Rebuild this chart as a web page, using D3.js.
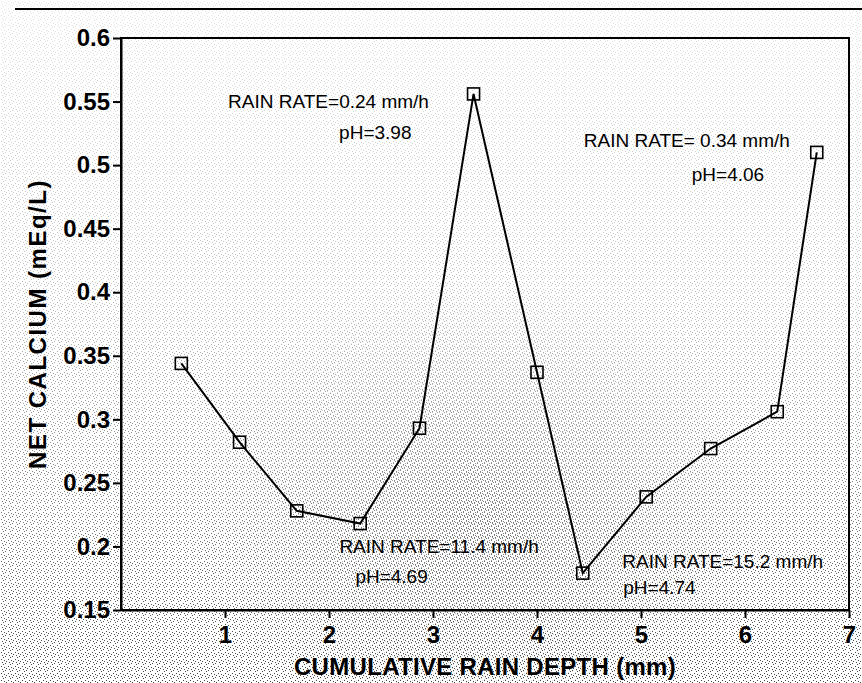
<!DOCTYPE html>
<html>
<head>
<meta charset="utf-8">
<script src="https://cdn.jsdelivr.net/npm/d3@7"></script>
<style>
  body { margin: 0; background: #fff; }
  svg { display: block; }
</style>
</head>
<body>
<div id="chart"></div>
<script>
// values
var depth = [0.58, 1.14, 1.69, 2.30, 2.87, 3.39, 4.00, 4.44, 5.05, 5.67, 6.31, 6.69];
var calcium = [0.344, 0.282, 0.228, 0.218, 0.293, 0.556, 0.337, 0.179, 0.239, 0.277, 0.306, 0.510];
var xTicks = [1, 2, 3, 4, 5, 6, 7];
var yTicks = [0.15, 0.2, 0.25, 0.3, 0.35, 0.4, 0.45, 0.5, 0.55, 0.6];
var rainRates = ["RAIN RATE=0.24 mm/h", "RAIN RATE= 0.34 mm/h", "RAIN RATE=11.4 mm/h", "RAIN RATE=15.2 mm/h"];
var phValues = ["pH=3.98", "pH=4.06", "pH=4.69", "pH=4.74"];
var xlabel = "CUMULATIVE RAIN DEPTH (mm)";
var ylabel = "NET CALCIUM (mEq/L)";

var drawChart = function(target) {
  var W = 862, H = 683;
  var margin = { top: 38, right: 13, bottom: 73, left: 121 },
    width = W - margin.left - margin.right,
    height = H - margin.top - margin.bottom;
  var font = "'Liberation Sans', Arial, Helvetica, sans-serif";

  var x = d3.scaleLinear().domain([0, 7]).range([0, width]);
  var y = d3.scaleLinear().domain([0.15, 0.6]).range([height, 0]);

  var svg = d3.select(target)
    .append("svg")
    .attr("width", W)
    .attr("height", H);

  // stippled photocopy tone
  var defs = svg.append("defs");
  var pat = defs.append("pattern")
    .attr("id", "stip")
    .attr("width", 7)
    .attr("height", 7)
    .attr("patternUnits", "userSpaceOnUse");
  [[1, 1], [4, 2], [2, 4], [5, 5], [6, 3], [3, 6]].forEach(function(p) {
    pat.append("rect").attr("x", p[0]).attr("y", p[1])
      .attr("width", 1).attr("height", 1).attr("fill", "#222");
  });
  var grad = defs.append("linearGradient")
    .attr("id", "fade").attr("x1", 0).attr("y1", 0).attr("x2", 0).attr("y2", 1);
  grad.append("stop").attr("offset", 0).attr("stop-color", "#fff").attr("stop-opacity", 0.12);
  grad.append("stop").attr("offset", 0.45).attr("stop-color", "#fff").attr("stop-opacity", 0.3);
  grad.append("stop").attr("offset", 1).attr("stop-color", "#fff").attr("stop-opacity", 0.85);
  var rad = defs.append("radialGradient")
    .attr("id", "blob").attr("cx", 0.55).attr("cy", 0.75).attr("r", 0.35);
  rad.append("stop").attr("offset", 0).attr("stop-color", "#fff").attr("stop-opacity", 0.6);
  rad.append("stop").attr("offset", 1).attr("stop-color", "#fff").attr("stop-opacity", 0);
  defs.append("mask").attr("id", "m1")
    .append("rect").attr("width", W).attr("height", H).attr("fill", "url(#fade)");
  defs.append("mask").attr("id", "m2")
    .append("rect").attr("width", W).attr("height", H).attr("fill", "url(#blob)");

  svg.append("rect").attr("width", W).attr("height", H).attr("fill", "#fff");
  svg.append("rect").attr("width", W).attr("height", H)
    .attr("fill", "url(#stip)").attr("mask", "url(#m1)");
  svg.append("rect").attr("width", W).attr("height", H)
    .attr("fill", "url(#stip)").attr("mask", "url(#m2)")
    .attr("transform", "translate(3,2)");

  // edge of the scanned page
  svg.append("line")
    .attr("x1", 15).attr("x2", W).attr("y1", 9).attr("y2", 9)
    .attr("stroke", "#000").attr("stroke-width", 2);

  var g = svg.append("g")
    .attr("transform", "translate(" + margin.left + "," + margin.top + ")");

  // frame
  g.append("rect")
    .attr("width", width)
    .attr("height", height)
    .attr("fill", "none")
    .attr("stroke", "#000")
    .attr("stroke-width", 2);

  // Add the X Axis
  var xAxis = g.append("g")
    .attr("transform", "translate(0," + height + ")")
    .call(d3.axisBottom(x).tickValues(xTicks).tickSize(8).tickSizeOuter(0).tickPadding(8)
      .tickFormat(d3.format("d")));

  // Add the Y Axis
  var yAxis = g.append("g")
    .call(d3.axisLeft(y).tickValues(yTicks).tickSize(8).tickSizeOuter(0).tickPadding(3)
      .tickFormat(d3.format("~g")));

  [xAxis, yAxis].forEach(function(a) {
    a.select(".domain").attr("stroke-width", 2);
    a.selectAll(".tick line").attr("stroke-width", 2);
    a.selectAll(".tick text")
      .attr("font-family", font)
      .attr("font-size", 24)
      .attr("font-weight", "bold")
      .attr("fill", "#000");
  });

  // series line + square markers
  var pts = depth.map(function(d, i) { return { x: d, y: calcium[i] }; });
  var line = d3.line()
    .x(function(d) { return x(d.x); })
    .y(function(d) { return y(d.y); });

  g.append("path")
    .datum(pts)
    .attr("d", line)
    .attr("fill", "none")
    .attr("stroke", "#000")
    .attr("stroke-width", 2);

  g.selectAll("rect.pt")
    .data(pts)
    .enter()
    .append("rect")
    .attr("class", "pt")
    .attr("x", function(d) { return x(d.x) - 6; })
    .attr("y", function(d) { return y(d.y) - 6; })
    .attr("width", 12)
    .attr("height", 12)
    .attr("fill", "none")
    .attr("stroke", "#000")
    .attr("stroke-width", 1.6);

  // annotations: anchor in data units, second line offset in px
  var notePos = [[1.03, 0.545, 111, 31], [4.45, 0.514, 108, 34], [2.10, 0.195, 16, 30], [4.82, 0.183, 1, 26]];
  rainRates.forEach(function(t, i) {
    var p = notePos[i];
    var gx = x(p[0]), gy = y(p[1]);
    g.append("text")
      .attr("x", gx).attr("y", gy)
      .attr("font-family", font).attr("font-size", 19)
      .attr("fill", "#000")
      .text(t);
    g.append("text")
      .attr("x", gx + p[2]).attr("y", gy + p[3])
      .attr("font-family", font).attr("font-size", 19)
      .attr("fill", "#000")
      .text(phValues[i]);
  });

  //xlabel
  g.append("text")
    .attr("x", width / 2)
    .attr("y", height + 65)
    .attr("text-anchor", "middle")
    .attr("font-family", font)
    .attr("font-size", 24)
    .attr("font-weight", "bold")
    .attr("letter-spacing", 0.3)
    .text(xlabel);

  //ylabel
  g.append("text")
    .attr("transform", "translate(" + (46 - margin.left) + "," + height / 2 + ") rotate(-90)")
    .attr("text-anchor", "middle")
    .attr("font-family", font)
    .attr("font-size", 24)
    .attr("font-weight", "bold")
    .attr("letter-spacing", 1.5)
    .text(ylabel);
};

drawChart("#chart");
</script>
</body>
</html>
